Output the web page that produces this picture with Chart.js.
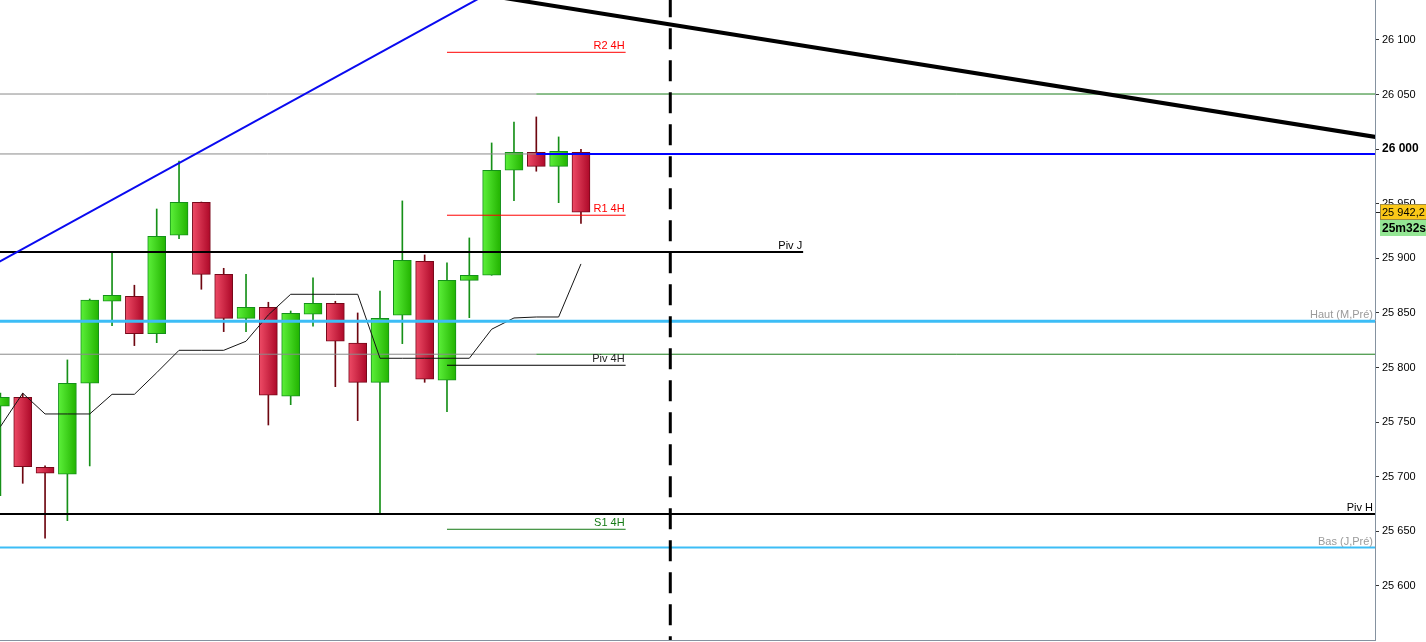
<!DOCTYPE html>
<html><head><meta charset="utf-8">
<script src="https://cdn.jsdelivr.net/npm/chart.js@4.4.1/dist/chart.umd.min.js"></script>
<style>html,body{margin:0;padding:0;background:#fff;overflow:hidden}#wrap{width:1426px;height:642px}</style>
</head><body><div id="wrap"><canvas id="c" width="1426" height="642"></canvas></div>
<script>
// ---- data ----
const candleSlots = [0,1,2,3,4,5,6,7,8,9,10,11,12,13,14,15,16,17,18,19,20,21,22,23,24,25,26];
const opens  = [25764.6,25772.8,25708.7,25702.3,25785.6,25860.7,25865.3,25831.0,25921.2,25951.4,25885.4,25845.1,25855.2,25773.7,25848.8,25858.9,25822.3,25786.5,25847.9,25897.3,25788.4,25879.9,25884.5,25980.7,25997.2,25984.3,25997.2];
const highs  = [25776.7,25776.3,25709.9,25807.0,25862.8,25905.2,25875.4,25945.2,25989.2,25951.6,25890.9,25885.4,25859.8,25851.8,25882.1,25860.7,25850.0,25870.1,25952.6,25903.1,25895.8,25918.7,26005.7,26024.9,26029.5,26011.2,25999.9];
const lows   = [25682.7,25694.0,25643.7,25659.8,25709.9,25838.4,25820.1,25822.8,25918.0,25871.7,25832.9,25832.9,25747.4,25766.0,25837.8,25782.5,25751.4,25666.8,25821.9,25786.5,25759.6,25845.7,25884.5,25952.8,25979.8,25951.0,25932.1];
const closes = [25772.8,25709.2,25703.2,25785.6,25861.9,25866.2,25831.0,25920.2,25951.4,25885.4,25845.1,25855.2,25774.6,25849.7,25858.9,25824.1,25786.5,25845.1,25898.3,25789.3,25879.9,25884.5,25980.7,25997.2,25984.3,25998.1,25942.2];
const indicatorValues = [25745.9,25776.5,25757.5,25757.5,25757.5,25775.5,25775.5,25795.3,25815.8,25815.8,25815.8,25824.1,25848.2,25867.1,25867.1,25867.1,25867.1,25808.5,25808.5,25808.5,25808.5,25808.5,25835.1,25845.4,25846.3,25846.3,25894.9];

const yTickValues = [25600,25650,25700,25750,25800,25850,25900,25950,26000,26050,26100];
const yTickLabels = ['25 600','25 650','25 700','25 750','25 800','25 850','25 900','25 950','26 000','26 050','26 100'];

const pivot4HNames  = ['R2 4H','R1 4H','Piv 4H','S1 4H'];
const pivot4HValues = [26088.7,25939.5,25802.1,25651.9];
const pivot4HSpan   = [20,28];

const dayLevelNames  = ['Piv J','Haut (M,Pré)','Piv H','Bas (J,Pré)'];
const dayLevelValues = [25905.9,25842.4,25665.9,25635.1];
const pivJEndSlot = 35.95;

const splitLevelValues = [26050.5,25995.6,25812.2];
const splitSlot = 24;

const blueTrendSlots  = [-1,22];
const blueTrendValues = [25886.2,26144.4];
const blackTrendSlots = [20,62];
const blackTrendValues= [26146.8,26009.8];

const sessionBreakSlot = 30;
const lastPriceLabel = '25 942,2';
const countdownLabel = '25m32s';

// ---- ranges / styles ----
const xMin = -0.018, xMax = 61.56;
const yMin = 25550.5, yMax = 26136.6;
const FONT = '"Liberation Sans", Arial, sans-serif';
Chart.defaults.font.family = FONT;

const pivot4HColors = ['#ff0000','#ff0000','#000000','#157a15'];
const pivot4HText   = ['#ff0000','#ff0000','#222222','#157a15'];
const dayLineColors = ['#000000','#3cbdf6','#000000','#3cbdf6'];
const dayLineWidths = [2,3,2,2];
const dayTextColors = ['#000000','#9a9a9a','#000000','#9a9a9a'];
const splitRightColors = ['#1a7d1a','#0000ff','#1a7d1a'];
const splitRightWidths = [1,2,1];

const isUp = i => closes[i] >= opens[i];
function bodyFill(c){
  const i = c.dataIndex; const up = isUp(i);
  const light = up ? '#5cf03a' : '#ee4b66';
  const dark  = up ? '#22b300' : '#ad0828';
  const xs = c.chart.scales && c.chart.scales.x;
  if (!xs || !c.raw) return dark;
  const cx = xs.getPixelForValue(c.raw.x);
  if (!isFinite(cx)) return dark;
  const g = c.chart.ctx.createLinearGradient(cx-9,0,cx+9,0);
  g.addColorStop(0, light); g.addColorStop(1, dark);
  return g;
}

function hLine(x0,x1,v,color,width,order){
  return {type:'line',data:[{x:x0,y:v},{x:x1,y:v}],borderColor:color,borderWidth:width,
    pointRadius:0,fill:false,tension:0,clip:0,order:order};
}

const datasets = [];
datasets.push({type:'bar',data:candleSlots.map(i=>({x:i,y:[lows[i],highs[i]]})),
  backgroundColor:c=>isUp(c.dataIndex)?'#169018':'#6e0610',borderWidth:0,barThickness:1,grouped:false,order:20});
datasets.push({type:'bar',data:candleSlots.map(i=>({x:i,y:[opens[i],closes[i]]})),
  backgroundColor:bodyFill,borderColor:c=>isUp(c.dataIndex)?'#14911a':'#78081a',
  borderWidth:1,borderSkipped:false,barThickness:18,grouped:false,order:19});
datasets.push({type:'line',data:candleSlots.map(i=>({x:i,y:indicatorValues[i]})),borderColor:'#151515',
  borderWidth:1,pointRadius:0,fill:false,tension:0,clip:0,order:5});
splitLevelValues.forEach((v,k)=>{
  datasets.push(hLine(xMin-1,splitSlot,v,'#8a8a8a',1,6));
  datasets.push(hLine(splitSlot,xMax+1,v,splitRightColors[k],splitRightWidths[k],4));
});
pivot4HValues.forEach((v,k)=>datasets.push(hLine(pivot4HSpan[0],pivot4HSpan[1],v,pivot4HColors[k],1,4)));
dayLevelValues.forEach((v,k)=>datasets.push(hLine(xMin-1,k===0?pivJEndSlot:xMax+1,v,dayLineColors[k],dayLineWidths[k],3)));
datasets.push({type:'line',data:blueTrendSlots.map((s,k)=>({x:s,y:blueTrendValues[k]})),borderColor:'#0a0af0',
  borderWidth:2,pointRadius:0,fill:false,tension:0,clip:0,order:2});
datasets.push({type:'line',data:blackTrendSlots.map((s,k)=>({x:s,y:blackTrendValues[k]})),borderColor:'#000000',
  borderWidth:4,pointRadius:0,fill:false,tension:0,clip:0,order:2});
datasets.push({type:'line',data:[{x:sessionBreakSlot,y:yMax},{x:sessionBreakSlot,y:yMin}],borderColor:'#000000',
  borderWidth:3,borderDash:[21,11],borderDashOffset:3.7,pointRadius:0,fill:false,tension:0,clip:0,order:0});

const overlay = {
  id:'overlay',
  afterDatasetsDraw(chart){
    const {ctx, chartArea} = chart; const x = chart.scales.x, y = chart.scales.y;
    ctx.save();
    ctx.font = '11px ' + FONT; ctx.textAlign = 'right'; ctx.textBaseline = 'alphabetic';
    const px4 = x.getPixelForValue(pivot4HSpan[1]) - 1;
    pivot4HNames.forEach((n,k)=>{ ctx.fillStyle = pivot4HText[k]; ctx.fillText(n, px4, y.getPixelForValue(pivot4HValues[k]) - 3.5); });
    dayLevelNames.forEach((n,k)=>{
      const px = k===0 ? x.getPixelForValue(pivJEndSlot) - 1 : chartArea.right - 2;
      ctx.fillStyle = dayTextColors[k];
      ctx.fillText(n, px, y.getPixelForValue(dayLevelValues[k]) - 3);
    });
    ctx.restore();
  },
  afterDraw(chart){
    const {ctx, chartArea} = chart; const y = chart.scales.y;
    ctx.save();
    ctx.strokeStyle = '#8592a0'; ctx.lineWidth = 1;
    ctx.beginPath(); ctx.moveTo(0, chartArea.bottom + 0.5); ctx.lineTo(chartArea.right + 1, chartArea.bottom + 0.5); ctx.stroke();
    const py = Math.round(y.getPixelForValue(closes[closes.length-1]));
    const bx = chartArea.right + 5;
    ctx.fillStyle = '#fbc818'; ctx.fillRect(bx, py-8, 60, 16);
    ctx.strokeStyle = '#a08a40'; ctx.strokeRect(bx+0.5, py-7.5, 60, 15);
    ctx.fillStyle = '#94e694'; ctx.fillRect(bx, py+8, 60, 16);
    ctx.strokeStyle = '#222'; ctx.beginPath(); ctx.moveTo(chartArea.right+1, py+0.5); ctx.lineTo(chartArea.right+5, py+0.5); ctx.stroke();
    ctx.fillStyle = '#000'; ctx.textAlign = 'left'; ctx.textBaseline = 'middle';
    ctx.font = '11px ' + FONT; ctx.fillText(lastPriceLabel, bx+2, py+0.5);
    ctx.font = 'bold 12px ' + FONT; ctx.fillText(countdownLabel, bx+2, py+16.5);
    ctx.restore();
  }
};

new Chart(document.getElementById('c'), {
  type:'bar',
  data:{datasets},
  options:{
    responsive:false, animation:false, devicePixelRatio:1, events:[],
    layout:{padding:{left:0,right:0,top:0,bottom:2}},
    plugins:{legend:{display:false},tooltip:{enabled:false}},
    scales:{
      x:{type:'linear',min:xMin,max:xMax,display:false,offset:false,grid:{offset:false}},
      y:{type:'linear',position:'right',min:yMin,max:yMax,
        afterBuildTicks:s=>{ s.ticks = yTickValues.map(v=>({value:v})); },
        afterFit:s=>{ s.width = 51; s.paddingTop = 0; s.paddingBottom = 0; },
        ticks:{autoSkip:false,padding:3,color:'#000',
          callback:v=>yTickLabels[yTickValues.indexOf(v)],
          font:c=>(c.tick && c.tick.value===26000)?{size:12,weight:'bold',family:FONT}:{size:11,family:FONT}},
        grid:{drawOnChartArea:false,drawTicks:true,tickLength:4,tickColor:'#333'},
        border:{display:true,color:'#8592a0'}
      }
    }
  },
  plugins:[overlay]
});
</script></body></html>
